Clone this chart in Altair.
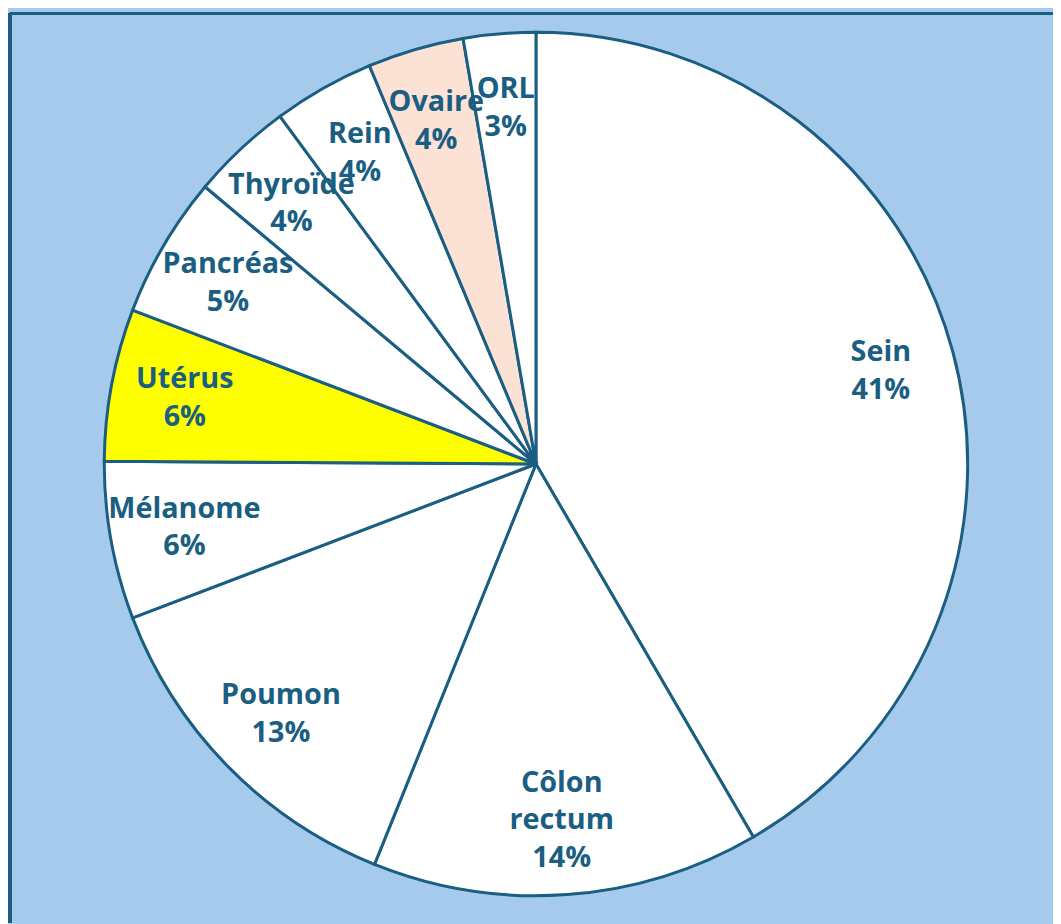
import altair as alt
import pandas as pd

categories = ["Sein", "Côlon rectum", "Poumon", "Mélanome", "Utérus",
              "Pancréas", "Thyroïde", "Rein", "Ovaire", "ORL"]
values = [41.6, 14.5, 13.1, 5.9, 5.7, 5.3, 3.8, 3.8, 3.6, 2.7]
pct_labels = ["41%", "14%", "13%", "6%", "6%", "5%", "4%", "4%", "4%", "3%"]
name_lines = ["Sein", "Côlon\nrectum", "Poumon", "Mélanome", "Utérus",
              "Pancréas", "Thyroïde", "Rein", "Ovaire", "ORL"]

labels = [n + "\n" + p for n, p in zip(name_lines, pct_labels)]
df = pd.DataFrame({
    "cat": categories,
    "value": values,
    "order": list(range(len(categories))),
    "label": labels,
    "nlines": [lab.count("\n") + 1 for lab in labels],
})

fill_range = ["#FFFFFF"] * len(categories)
fill_range[categories.index("Utérus")] = "#FFFF00"
fill_range[categories.index("Ovaire")] = "#FBE2D5"

W, H = 1053, 916
CX, CY = 530, 454
DARK = "#1A5E82"
LH = 38

base = alt.Chart(df).encode(
    theta=alt.Theta("value:Q", stack=True),
    order=alt.Order("order:Q"),
)

arcs = base.mark_arc(outerRadius=435, stroke=DARK, strokeWidth=3).encode(
    x=alt.value(CX), y=alt.value(CY),
    color=alt.Color("cat:N", scale=alt.Scale(domain=categories, range=fill_range), legend=None),
)


def text_layer(n):
    return base.mark_text(radius=360, font="Open Sans", fontWeight="bold", fontSize=29,
                          lineBreak="\n", lineHeight=LH, color=DARK,
                          align="center", baseline="middle",
                          dy=-(n - 1) * LH / 2).encode(
        x=alt.value(CX), y=alt.value(CY),
        text="label:N",
        opacity=alt.condition(f"datum.nlines == {n}", alt.value(1), alt.value(0)),
    )


text2 = text_layer(2)
text3 = text_layer(3)

left_border = alt.Chart(df).mark_rule(color=DARK, strokeWidth=3).encode(
    x=alt.value(0), y=alt.value(0), y2=alt.value(H))
top_border = alt.Chart(df).mark_rule(color=DARK, strokeWidth=3).encode(
    x=alt.value(0), x2=alt.value(W), y=alt.value(0))

chart = alt.layer(arcs, text2, text3, left_border, top_border).properties(
    width=W, height=H, padding=0, background="#A6CAEC",
    autosize=alt.AutoSizeParams(type="fit", contains="padding"),
).configure_view(stroke=None)

chart.save("out.html", embed_options={"renderer": "svg", "actions": False})
